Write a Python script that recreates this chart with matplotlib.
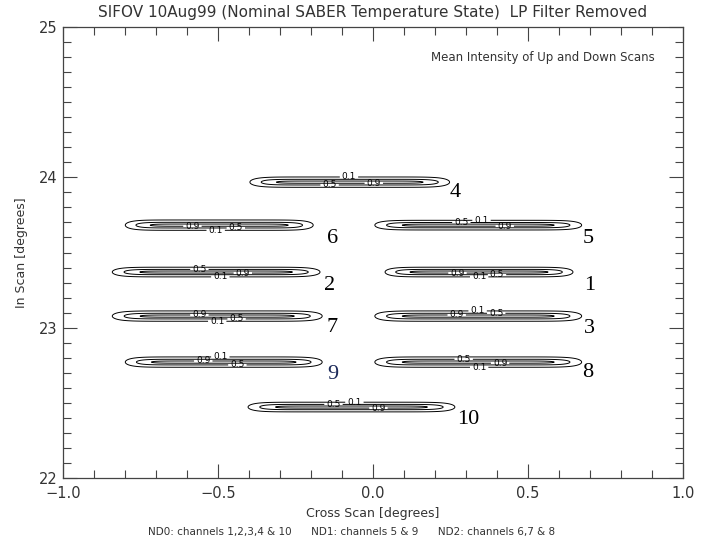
import numpy as np
import matplotlib
matplotlib.use('Agg')
import matplotlib.pyplot as plt
from matplotlib.ticker import MultipleLocator

# channel footprints: number, cross-scan extent (deg), in-scan centre (deg)
channels = ['1', '2', '3', '4', '5', '6', '7', '8', '9', '10']
x_left = [0.039, -0.841, 0.006, -0.397, 0.006, -0.799, -0.841, 0.006, -0.799, -0.403]
x_right = [0.645, -0.171, 0.673, 0.247, 0.673, -0.193, -0.164, 0.673, -0.164, 0.264]
y_centre = [23.370, 23.370, 23.077, 23.968, 23.682, 23.682, 23.077, 22.771, 22.771, 22.472]
y_sigma = [0.015, 0.015, 0.016, 0.016, 0.015, 0.016, 0.016, 0.016, 0.016, 0.015]

# where each channel number is written
label_x = [0.699, -0.139, 0.699, 0.264, 0.693, -0.129, -0.132, 0.693, -0.129, 0.306]
label_y = [23.283, 23.283, 22.997, 23.90, 23.595, 23.595, 23.004, 22.70, 22.69, 22.39]
label_col = ['black'] * 8 + ['#1c2a5a', 'black']

levels = [0.1, 0.5, 0.9]

# intensity map on a fine grid
xg = np.linspace(-1.0, 1.0, 801)
yg = np.linspace(22.0, 25.0, 3001)
X, Y = np.meshgrid(xg, yg)
Z = np.zeros_like(X)
for xl, xr, yc, sy in zip(x_left, x_right, y_centre, y_sigma):
    xc = 0.5 * (xl + xr)
    hx = 0.5 * (xr - xl)
    u = np.abs((X - xc) / hx)
    gx = np.exp(-np.log(10.0) * u ** 10)
    hy = np.exp(-0.5 * ((Y - yc) / sy) ** 2)
    Z = np.maximum(Z, gx * hy)

fig = plt.figure(figsize=(7.04, 5.40), dpi=100)
ax = fig.add_axes([63 / 704, 1 - 478 / 540, 620 / 704, 451 / 540])

cs = ax.contour(X, Y, Z, levels=levels, colors='black', linewidths=0.7)
ax.clabel(cs, fmt='%.1f', fontsize=6.5, inline=True, inline_spacing=2)

for name, lx, ly, c in zip(channels, label_x, label_y, label_col):
    ax.text(lx, ly, name, family='Liberation Serif', fontsize=16,
            color=c, ha='center', va='center')

ax.set_xlim(-1.0, 1.0)
ax.set_ylim(22.0, 25.0)
ax.set_xticks([-1.0, -0.5, 0.0, 0.5, 1.0])
ax.set_yticks([22, 23, 24, 25])
ax.xaxis.set_minor_locator(MultipleLocator(0.1))
ax.yaxis.set_minor_locator(MultipleLocator(0.1))
ax.tick_params(which='both', direction='in', top=True, right=True,
               colors='#444444', labelcolor='#333333', labelsize=10.5)
ax.tick_params(which='major', length=10, width=0.8)
ax.tick_params(which='minor', length=6, width=0.8)
ax.tick_params(axis='x', pad=6)
ax.tick_params(axis='y', pad=4)
for s in ax.spines.values():
    s.set_color('#444444')
    s.set_linewidth(0.9)

ax.set_xlabel('Cross Scan [degrees]', fontsize=9, color='#333333', labelpad=4)
ax.set_ylabel('In Scan [degrees]', fontsize=9, color='#333333', labelpad=8)
ax.set_title('SIFOV 10Aug99 (Nominal SABER Temperature State)  LP Filter Removed',
             fontsize=11, color='#333333', pad=7)
ax.text(0.955, 0.933, 'Mean Intensity of Up and Down Scans', transform=ax.transAxes,
        fontsize=8.5, color='#333333', ha='right', va='center')

fig.text(0.5, 1 - 532 / 540,
         'ND0: channels 1,2,3,4 & 10      ND1: channels 5 & 9      ND2: channels 6,7 & 8',
         fontsize=7.5, color='#333333', ha='center', va='center')

fig.savefig('out.png', dpi=100)
